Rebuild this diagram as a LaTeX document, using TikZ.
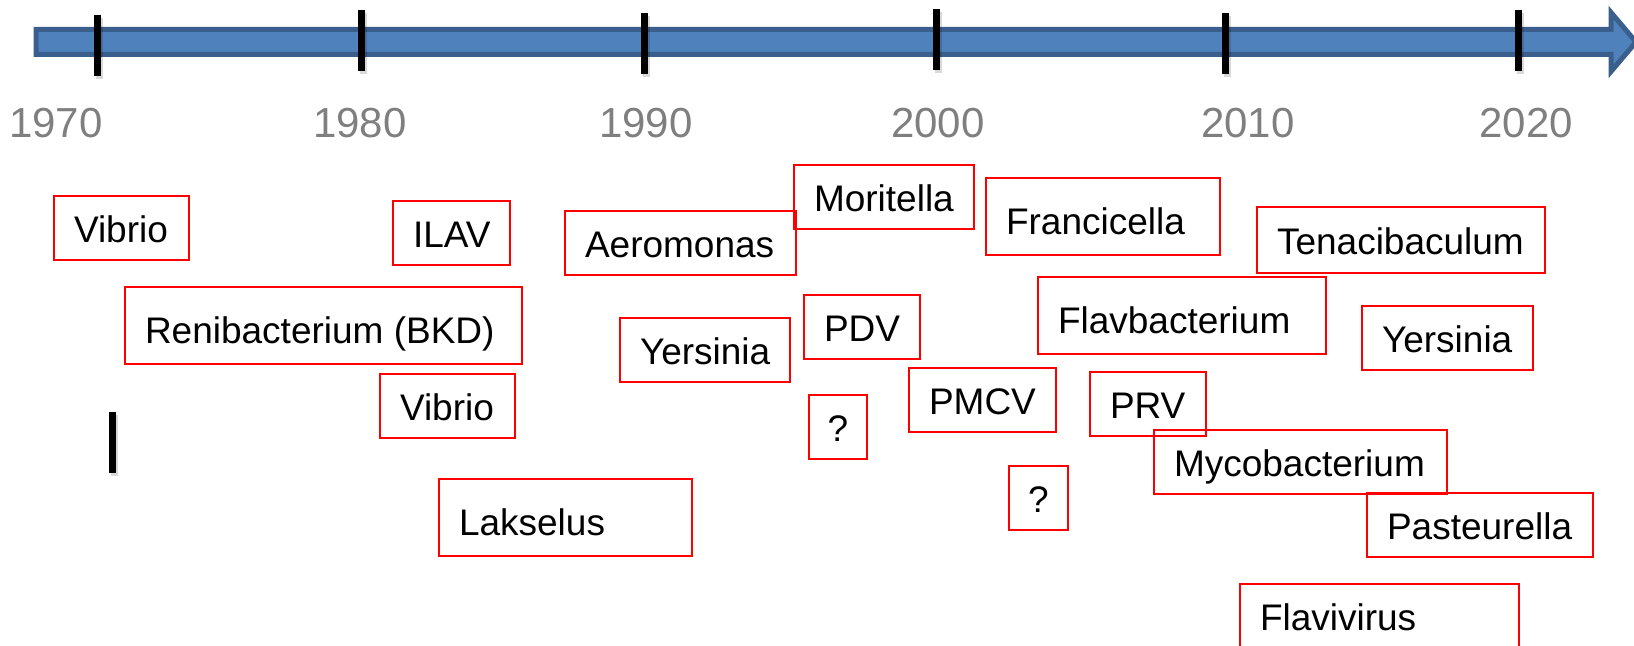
\documentclass[tikz,border=0pt]{standalone}
\usepackage{fontspec}
\newfontfamily\lbl{Liberation Sans}
\definecolor{arrowfill}{HTML}{4F81BD}
\definecolor{arrowline}{HTML}{3A5F8C}
\definecolor{yeargray}{HTML}{7F7F7F}
\newcommand\lt[2]{\makebox[#1][l]{#2}}
\newcommand\ct[2]{\makebox[#1][c]{#2}}
\tikzset{
  box/.style={draw=red, line width=1pt, font={\lbl\fontsize{18.5pt}{22pt}\selectfont},
    inner xsep=10pt, inner ysep=0pt, anchor=north west, text depth=0pt},
  shortbox/.style={box, text height=14.75pt, minimum height=32pt},
  tallbox/.style={box, text height=18.25pt, minimum height=38.5pt},
  year/.style={font={\lbl\fontsize{21pt}{24pt}\selectfont}, text=yeargray, inner sep=0pt, text depth=0pt, anchor=center},
  tick/.style={line width=3.5pt, black},
  tickshadow/.style={line width=3.5pt, black, opacity=0.15},
}
\begin{document}
\begin{tikzpicture}[x=0.5pt,y=-0.5pt]
\useasboundingbox (0,0) rectangle (1634,646);
% timeline arrow
\draw[fill=arrowfill, draw=arrowline, line width=2.5pt, line join=miter, miter limit=10]
  (36,29.5) -- (1611,29.5) -- (1611,12.5) -- (1636,42) -- (1611,71.5) -- (1611,54.5) -- (36,54.5) -- cycle;
% ticks
\foreach \x/\a/\b in {97/15/76, 361/10/71, 644/13/74, 936/9/70, 1225/13/74, 1518/10/71}{
  \draw[tickshadow] (\x+2,\a+3) -- (\x+2,\b+3);
  \draw[tick] (\x,\a) -- (\x,\b);
}
\draw[tickshadow] (114,415) -- (114,476);
\draw[tick] (112,412) -- (112,473);
% years
\node[year] (y1970) at (56,123) {1970};
\node[year] (y1980) at (360,123) {1980};
\node[year] (y1990) at (646,123) {1990};
\node[year] (y2000) at (938,123) {2000};
\node[year] (y2010) at (1248,123) {2010};
\node[year] (y2020) at (1526,123) {2020};
% boxes
\node[shortbox] (vibrioA) at (53,195) {\lt{47.5pt}{Vibrio}};
\node[shortbox] (ilav) at (392,200) {\lt{38.5pt}{ILAV}};
\node[tallbox] (reni) at (124,286) {\lt{178.5pt}{Renibacterium (BKD)}};
\node[shortbox] (vibrioB) at (379,373) {\lt{47.5pt}{Vibrio}};
\node[tallbox] (lakselus) at (438,478) {\lt{106.5pt}{Lakselus}};
\node[shortbox] (aeromonas) at (564,210) {\lt{95.5pt}{Aeromonas}};
\node[shortbox] (yersiniaA) at (619,317) {\lt{65pt}{Yersinia}};
\node[shortbox] (moritella) at (793,164) {\lt{70pt}{Moritella}};
\node[shortbox] (pdv) at (803,294) {\lt{38pt}{PDV}};
\node[shortbox] (qA) at (808,394) {\ct{9pt}{?}};
\node[shortbox] (pmcv) at (908,367) {\lt{53.5pt}{PMCV}};
\node[shortbox] (qB) at (1008,465) {\ct{9.5pt}{?}};
\node[tallbox] (francicella) at (985,177) {\lt{97pt}{Francicella}};
\node[tallbox] (flavbacterium) at (1037,276) {\lt{124pt}{Flavbacterium}};
\node[shortbox] (prv) at (1089,371) {\lt{38pt}{PRV}};
\node[shortbox, minimum height=33pt] (tenacibaculum) at (1256,206) {\lt{124pt}{Tenacibaculum}};
\node[shortbox] (yersiniaB) at (1361,305) {\lt{65.5pt}{Yersinia}};
\node[shortbox] (mycobacterium) at (1153,429) {\lt{126.5pt}{Mycobacterium}};
\node[shortbox] (pasteurella) at (1366,492) {\lt{93pt}{Pasteurella}};
\node[shortbox] (flavivirus) at (1239,583) {\lt{119.5pt}{Flavivirus}};
\end{tikzpicture}
\end{document}
